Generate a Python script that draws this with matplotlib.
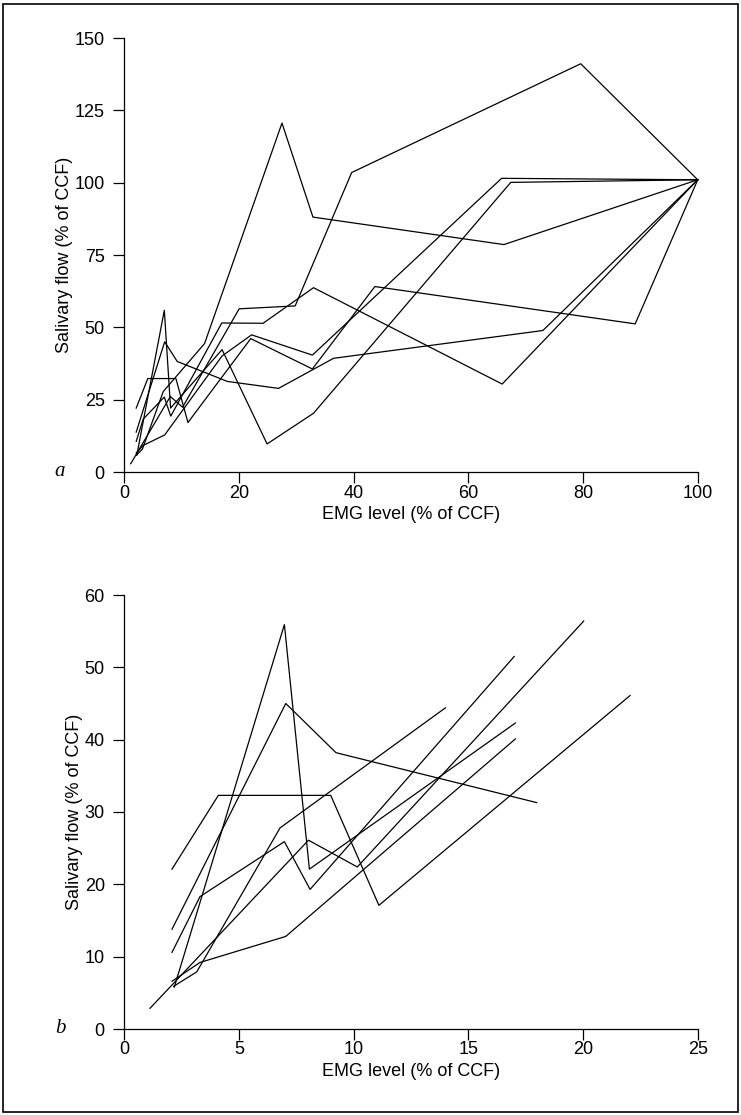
import matplotlib
matplotlib.use("Agg")
import matplotlib.pyplot as plt
from matplotlib.patches import Rectangle

# panel b: first points of each subject (EMG %, flow %)
B_X = [
    [2.08, 4.1, 9.0, 11.1, 22.05],
    [2.08, 7.04, 9.23, 17.98],
    [2.18, 6.98, 8.07, 17.05],
    [2.08, 3.3, 6.98, 8.1, 17.0],
    [2.08, 3.3, 7.04, 17.05],
    [1.12, 8.03, 10.16, 20.03],
    [2.15, 3.16, 6.79, 14.0],
]
B_Y = [
    [22.1, 32.3, 32.3, 17.1, 46.1],
    [13.8, 45.0, 38.2, 31.3],
    [5.8, 55.9, 22.1, 42.3],
    [10.6, 18.3, 25.9, 19.3, 51.5],
    [6.6, 9.2, 12.8, 40.1],
    [2.86, 26.1, 22.4, 56.4],
    [5.9, 7.9, 27.8, 44.4],
]

# panel a: remaining points up to 100 % CCF
A_X_TAIL = [
    [32.8, 43.7, 89.1, 100],
    [26.9, 36.5, 73.0, 100],
    [24.9, 33.0, 67.4, 100],
    [24.2, 33.0, 65.9, 100],
    [22.2, 32.8, 65.8, 100],
    [29.8, 39.65, 79.6, 100],
    [27.5, 32.9, 66.2, 100],
]
A_Y_TAIL = [
    [35.6, 64.1, 51.2, 101],
    [28.9, 39.3, 48.9, 101],
    [9.7, 20.3, 100.1, 101],
    [51.4, 63.7, 30.4, 101],
    [47.4, 40.4, 101.5, 101],
    [57.4, 103.5, 141.1, 101],
    [120.6, 88.1, 78.6, 101],
]

A_XTICKS = [0, 20, 40, 60, 80, 100]
A_YTICKS = [0, 25, 50, 75, 100, 125, 150]
B_XTICKS = [0, 5, 10, 15, 20, 25]
B_YTICKS = [0, 10, 20, 30, 40, 50, 60]

W, H = 741, 1115
plt.rcParams['font.family'] = ['Liberation Sans', 'DejaVu Sans']
fig = plt.figure(figsize=(W / 100, H / 100), dpi=100)

# outer frame
fig.patches.append(Rectangle((3 / W, 1 - 1112 / H), 735 / W, 1108 / H,
                             transform=fig.transFigure, fill=False,
                             edgecolor='black', linewidth=1.2))

ax_a = fig.add_axes([124.3 / W, 1 - 472 / H, 573.4 / W, 434 / H])
ax_b = fig.add_axes([124.3 / W, 1 - 1029 / H, 573.4 / W, 434 / H])


def style(ax, xticks, yticks, letter):
    ax.set_xlim(xticks[0], xticks[-1])
    ax.set_ylim(yticks[0], yticks[-1])
    ax.set_xticks(xticks)
    ax.set_yticks(yticks)
    for s in ['top', 'right']:
        ax.spines[s].set_visible(False)
    for s in ['left', 'bottom']:
        ax.spines[s].set_linewidth(0.9)
    ax.tick_params(direction='out', length=8, width=0.9, labelsize=13)
    ax.tick_params(axis='x', pad=1)
    ax.tick_params(axis='y', pad=6)
    ax.set_xlabel('EMG level (% of CCF)', fontsize=13, labelpad=3)
    ax.set_ylabel('Salivary flow (% of CCF)', fontsize=13, labelpad=1)
    ax.text(-0.112, 0.002, letter, transform=ax.transAxes, fontsize=15,
            family='Liberation Serif', style='italic', ha='center', va='center')


for xs, ys, xt, yt in zip(B_X, B_Y, A_X_TAIL, A_Y_TAIL):
    ax_a.plot(xs + xt, ys + yt, color='black', linewidth=0.9, clip_on=False)
    ax_b.plot(xs, ys, color='black', linewidth=0.9, clip_on=False)

style(ax_a, A_XTICKS, A_YTICKS, 'a')
style(ax_b, B_XTICKS, B_YTICKS, 'b')

fig.savefig('out.png', dpi=100)
